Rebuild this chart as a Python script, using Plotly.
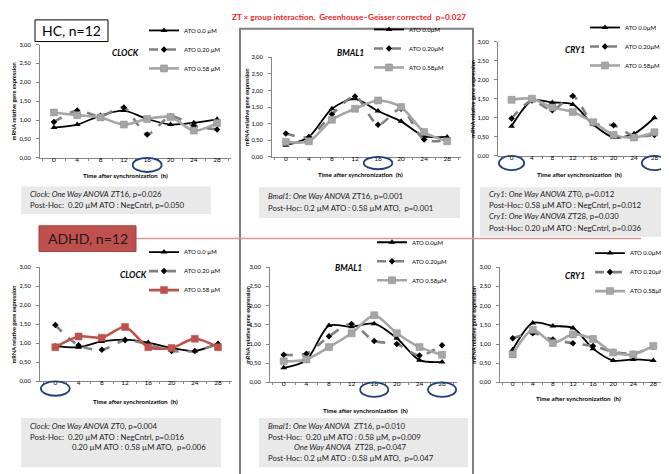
import plotly.graph_objects as go

W, H = 669, 474

hours = ["0", "4", "8", "12", "16", "20", "24", "28"]

# HC, n=12
hc_clock_00 = [0.80, 0.88, 1.12, 1.25, 1.03, 0.88, 0.93, 1.02]
hc_clock_20 = [0.95, 1.25, 1.10, 1.33, 0.62, 1.10, 0.85, 0.75]
hc_clock_58 = [1.20, 1.13, 1.07, 0.88, 1.03, 1.08, 0.72, 0.92]

hc_bmal1_00 = [0.35, 0.60, 1.45, 1.75, 1.38, 1.07, 0.62, 0.60]
hc_bmal1_20 = [0.70, 0.60, 1.28, 1.82, 0.97, 1.45, 0.52, 0.50]
hc_bmal1_58 = [0.45, 0.47, 1.12, 1.45, 1.70, 1.50, 0.75, 0.47]

hc_cry1_00 = [0.78, 1.45, 1.40, 1.35, 0.82, 0.48, 0.58, 1.00]
hc_cry1_20 = [0.98, 1.45, 1.20, 1.57, 0.85, 0.80, 0.52, 0.55]
hc_cry1_58 = [1.47, 1.50, 1.27, 1.15, 0.88, 0.55, 0.48, 0.62]

# ADHD, n=12
adhd_clock_00 = [0.93, 0.90, 1.05, 1.10, 1.02, 0.88, 0.80, 1.00]
adhd_clock_20 = [1.48, 0.95, 0.83, 1.08, 0.97, 0.80, 0.80, 0.98]
adhd_clock_58 = [0.90, 1.18, 1.15, 1.43, 0.90, 0.88, 1.12, 0.90]

adhd_bmal1_00 = [0.38, 0.58, 1.48, 1.45, 1.53, 1.15, 0.58, 0.53]
adhd_bmal1_20 = [0.72, 0.75, 1.20, 1.52, 1.08, 1.00, 0.70, 0.97]
adhd_bmal1_58 = [0.55, 0.60, 0.92, 1.28, 1.75, 1.28, 0.92, 0.72]

adhd_cry1_00 = [0.85, 1.55, 1.47, 1.42, 0.88, 0.57, 0.60, 0.57]
adhd_cry1_20 = [1.15, 1.28, 1.12, 1.02, 0.95, 0.80, 0.75, 0.93]
adhd_cry1_58 = [0.73, 1.37, 1.03, 1.25, 1.13, 0.78, 0.73, 0.95]

names_sp = ["ATO 0.0 µM", "ATO 0.20 µM", "ATO 0.58 µM"]
names_ns = ["ATO 0.0µM", "ATO 0.20µM", "ATO 0.58µM"]

FONT = "Lato"
AXIS_COL = "#868686"
CIRCLE_COL = "#1f3f7a"


def fx(p):
    return p / W


def fy(p):
    return 1 - p / H


# title, data, names, colour of 3rd series, plot box px (x0, x1, y0, y1),
# title pos, legend text start x / middle entry y, x-title pos, y-title x, circled ticks
panels = [
    ("CLOCK", [hc_clock_00, hc_clock_20, hc_clock_58], names_sp, "#a6a6a6",
     (32, 223, 33, 148), (117, 42), (182, 49), (117, 166), 5, ["16"]),
    ("BMAL1", [hc_bmal1_00, hc_bmal1_20, hc_bmal1_58], names_ns, "#a6a6a6",
     (264, 453, 46, 147), (342, 42), (407, 48), (352, 165), 238, ["16"]),
    ("CRY1", [hc_cry1_00, hc_cry1_20, hc_cry1_58], names_ns, "#a6a6a6",
     (490, 660, 30, 146), (567, 39), (623, 46), (571, 165), 465, ["0", "28"]),
    ("CLOCK", [adhd_clock_00, adhd_clock_20, adhd_clock_58], names_sp, "#c0504d",
     (32, 224, 259, 375), (125, 267), (182, 274), (127, 395), 5, ["0"]),
    ("BMAL1", [adhd_bmal1_00, adhd_bmal1_20, adhd_bmal1_58], names_ns, "#a6a6a6",
     (262, 449, 259, 376), (340, 260), (410, 264), (358, 404), 240, ["16", "28"]),
    ("CRY1", [adhd_cry1_00, adhd_cry1_20, adhd_cry1_58], names_ns, "#a6a6a6",
     (492, 658, 259, 376), (567, 268), (628, 275), (570, 392), 466, []),
]

fig = go.Figure()
layout = {}
shapes = []
annotations = []

for i, (title, series, names, col3, box, tpos, lpos, xtpos, ytx, circled) in enumerate(panels):
    n = i + 1
    xa = "x" if n == 1 else f"x{n}"
    ya = "y" if n == 1 else f"y{n}"
    lg = "legend" if n == 1 else f"legend{n}"
    styles = [
        dict(line=dict(color="black", width=1.8),
             marker=dict(symbol="triangle-up", size=6, color="black")),
        dict(line=dict(color="#808080", width=2.6, dash="dash"),
             marker=dict(symbol="diamond", size=5, color="black")),
        dict(line=dict(color=col3, width=2.6),
             marker=dict(symbol="square", size=7, color=col3,
                         line=dict(color="#8c8c8c" if col3 == "#a6a6a6" else col3, width=0.5))),
    ]
    for k in range(3):
        fig.add_trace(go.Scatter(
            x=hours, y=series[k], name=names[k], mode="lines+markers",
            line_shape="spline", line_smoothing=0.8,
            xaxis=xa, yaxis=ya, legend=lg, **styles[k]))

    x0, x1, y0, y1 = box
    layout[f"xaxis{'' if n == 1 else n}"] = dict(
        domain=[fx(x0), fx(x1)], anchor=ya, type="category",
        tickson="boundaries", ticks="outside", ticklen=2, tickcolor=AXIS_COL,
        showline=True, linecolor=AXIS_COL, showgrid=False, zeroline=False,
        ticklabelstandoff=-5,
        tickfont=dict(size=6.5, family=FONT, color="black"))
    layout[f"yaxis{'' if n == 1 else n}"] = dict(
        domain=[fy(y1), fy(y0)], anchor=xa, range=[0, 3], dtick=0.5,
        tickformat=".2f", ticks="outside", ticklen=3, tickcolor=AXIS_COL,
        showline=True, linecolor=AXIS_COL, showgrid=False, zeroline=False,
        ticklabelstandoff=4,
        tickfont=dict(size=5.8, family=FONT, color="black"))
    layout[lg] = dict(
        x=fx(lpos[0] - 46), y=fy(lpos[1] - 45), xanchor="left", yanchor="top",
        bgcolor="rgba(0,0,0,0)", font=dict(size=6, family=FONT, color="black"),
        tracegroupgap=0, itemwidth=30, traceorder="normal")
    annotations.append(dict(
        text=f"<b><i>{title}</i></b>", x=fx(tpos[0]), y=fy(tpos[1]),
        xref="paper", yref="paper", xanchor="center", yanchor="middle", showarrow=False,
        font=dict(size=8.5, family=FONT, color="black")))
    annotations.append(dict(
        text="<b>Time after synchronization  (h)</b>", x=fx(xtpos[0]), y=fy(xtpos[1]),
        xref="paper", yref="paper", xanchor="center", yanchor="middle", showarrow=False,
        font=dict(size=6.3, family=FONT, color="black")))
    annotations.append(dict(
        text="<b>mRNA relative gene expression</b>", x=fx(ytx), y=fy((y0 + y1) / 2),
        xref="paper", yref="paper", xanchor="center", yanchor="middle", showarrow=False,
        textangle=-90, font=dict(size=5.6, family=FONT, color="black")))
    for c in circled:
        idx = hours.index(c)
        shapes.append(dict(
            type="circle", xref=xa, yref=f"{ya} domain",
            x0=idx - 0.62, x1=idx + 0.62, y0=-0.125, y1=0.0,
            line=dict(color=CIRCLE_COL, width=1.8)))

# frame around middle column and group separator
shapes.append(dict(type="rect", xref="paper", yref="paper",
                   x0=fx(232), x1=fx(465), y0=fy(470), y1=fy(17),
                   line=dict(color="#7f7f7f", width=2), layer="below"))
shapes.append(dict(type="line", xref="paper", yref="paper",
                   x0=fx(128), x1=fx(633), y0=fy(230), y1=fy(230),
                   line=dict(color="#d99694", width=1.5)))

# group labels
shapes.append(dict(type="rect", xref="paper", yref="paper",
                   x0=fx(27), x1=fx(100), y0=fy(30), y1=fy(8),
                   line=dict(color="black", width=1), fillcolor="white"))
annotations.append(dict(text="HC, n=12", x=fx(63.5), y=fy(19), xref="paper", yref="paper",
                        xanchor="center", yanchor="middle", showarrow=False,
                        font=dict(size=14, family=FONT, color="black")))
shapes.append(dict(type="rect", xref="paper", yref="paper",
                   x0=fx(31), x1=fx(128), y0=fy(243), y1=fy(217),
                   line=dict(color="#a33f3c", width=1), fillcolor="#c0504d"))
annotations.append(dict(text="ADHD, n=12", x=fx(79.5), y=fy(230), xref="paper", yref="paper",
                        xanchor="center", yanchor="middle", showarrow=False,
                        font=dict(size=14, family=FONT, color="#1a1a1a")))

annotations.append(dict(
    text="<b>ZT × group interaction,  Greenhouse–Geisser corrected  p=0.027</b>",
    x=fx(341), y=fy(5), xref="paper", yref="paper", xanchor="center", yanchor="middle",
    showarrow=False, font=dict(size=8.2, family=FONT, color="#ff1a1a")))

# statistics boxes: (box px, [(text, x px, y px)])
stat_boxes = [
    ((13, 203, 177, 205), [
        ("<i>Clock: One Way ANOVA</i> ZT16, p=0.026", 20, 185),
        ("Post-Hoc:  0.20 µM ATO : NegCntrl, p=0.050", 20, 196)]),
    ((251, 452, 178, 209), [
        ("<i>Bmal1</i>: <i>One Way ANOVA</i> ZT16, p=0.001", 258, 187),
        ("Post-Hoc: 0.2 µM ATO : 0.58 µM ATO,  p=0.001", 258, 199)]),
    ((472, 662, 178, 228), [
        ("<i>Cry1</i>: <i>One Way ANOVA</i> ZT0, p=0.012", 479, 185),
        ("Post-Hoc: 0.58 µM ATO : NegCntrl, p=0.012", 479, 196),
        ("<i>Cry1</i>: <i>One Way ANOVA</i> ZT28, p=0.030", 479, 207),
        ("Post-Hoc: 0.20 µM ATO : NegCntrl, p=0.036", 479, 219)]),
    ((13, 213, 412, 462), [
        ("<i>Clock: One Way ANOVA</i> ZT0, p=0.004", 20, 420),
        ("Post-Hoc:  0.20 µM ATO : NegCntrl, p=0.016", 20, 431),
        ("0.20 µM ATO : 0.58 µM ATO,  p=0.006", 62, 442)]),
    ((251, 460, 412, 462), [
        ("<i>Bmal1</i>: <i>One Way ANOVA</i>  ZT16, p=0.010", 258, 420),
        ("Post-Hoc:  0.20 µM ATO : 0.58 µM, p=0.009", 258, 431),
        ("<i>One Way ANOVA</i>  ZT28, p=0.047", 284, 442),
        ("Post-Hoc: 0.2 µM ATO : 0.58 µM ATO,  p=0.047", 258, 453)]),
]
for (bx0, bx1, by0, by1), lines in stat_boxes:
    shapes.append(dict(type="rect", xref="paper", yref="paper",
                       x0=fx(bx0), x1=fx(bx1), y0=fy(by1), y1=fy(by0),
                       line=dict(width=0), fillcolor="#e9e9e9", layer="below"))
    for txt, tx, ty in lines:
        annotations.append(dict(text=txt, x=fx(tx), y=fy(ty), xref="paper", yref="paper",
                                xanchor="left", yanchor="middle", showarrow=False,
                                font=dict(size=7.8, family=FONT, color="#222222")))

fig.update_layout(
    width=W, height=H, margin=dict(l=0, r=0, t=0, b=0),
    paper_bgcolor="white", plot_bgcolor="rgba(0,0,0,0)",
    separators=",.", showlegend=True,
    shapes=shapes, annotations=annotations, **layout)

fig.write_html("out.html")
